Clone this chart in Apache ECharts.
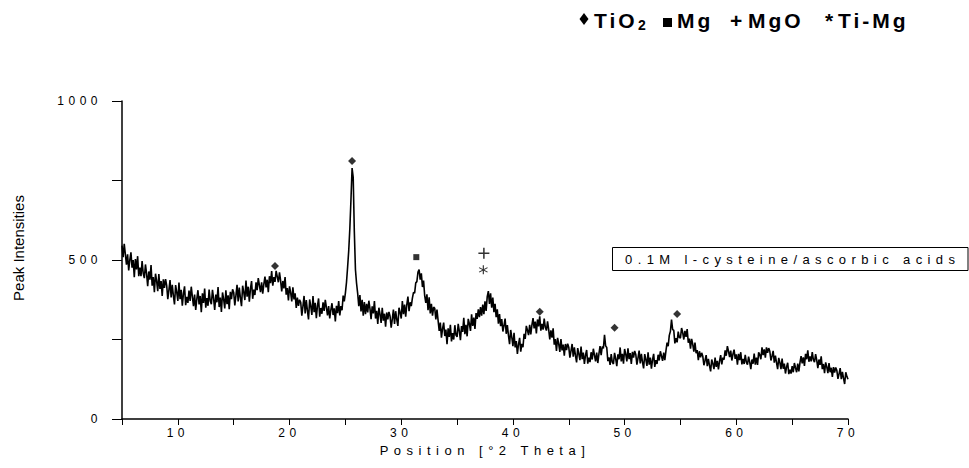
<!DOCTYPE html>
<html>
<head>
<meta charset="utf-8">
<script src="https://cdn.jsdelivr.net/npm/echarts@6/dist/echarts.min.js"></script>
<style>
  html, body { margin: 0; padding: 0; background: #fff; }
  #chart { width: 969px; height: 468px; }
  text[fill="#000001"] { letter-spacing: 4.5px; }
  text[fill="#000002"] { letter-spacing: 5.5px; }
  text[fill="#000003"] { letter-spacing: 5.4px; }
  text[fill="#000004"] { letter-spacing: 3px; }
</style>
</head>
<body>
<div id="chart"></div>
<script>
// ---- data ----
const thetaStart = 5.0;   // first 2θ position
const thetaStep = 0.1;    // sampling step of the pattern
const intensity = [
  545,509,551,518,485,518,467,500,524,476,500,446,503,470,512,449,476,449,497,458,
  443,486,457,418,464,438,484,419,446,399,457,434,402,456,409,434,387,439,412,440,
  420,377,405,437,382,422,388,360,421,399,371,429,377,406,356,394,417,358,384,365,
  404,371,416,385,355,391,343,378,405,360,387,336,395,365,410,350,380,356,407,371,
  361,406,379,343,391,367,415,352,382,337,398,377,348,405,361,389,345,400,377,408,
  398,357,388,422,370,413,381,355,419,399,374,435,385,416,369,409,434,378,407,390,
  430,405,443,421,399,430,394,424,448,414,438,399,449,427,465,419,446,431,466,448,
  430,461,435,401,434,411,446,391,412,373,417,397,370,414,376,395,349,382,356,375,
  367,325,354,387,332,374,341,313,376,355,327,387,336,365,317,356,379,322,349,331,
  367,340,375,351,326,355,316,343,364,327,348,307,356,333,371,326,355,342,388,370,
  396,430,478,530,600,690,789,760,590,470,427,395,355,390,338,375,325,368,330,362,
  335,372,347,314,354,332,371,316,340,299,350,330,302,350,309,331,290,335,313,337,
  323,287,314,344,299,339,313,293,350,335,316,371,330,360,322,360,385,339,367,355,
  380,398,396,428,432,462,470,438,458,415,435,388,365,392,342,383,332,362,325,352,
  348,313,344,310,277,303,256,284,303,261,281,235,285,258,296,244,270,250,295,264,
  258,299,277,248,292,274,318,267,296,260,315,300,277,329,293,319,283,333,315,345,
  320,352,325,360,330,370,340,385,402,362,395,350,382,336,362,320,345,300,330,292,
  314,275,294,316,268,295,263,235,280,257,229,271,225,245,205,235,255,212,236,226,
  268,252,293,279,264,296,266,295,317,285,306,269,313,291,323,278,299,281,316,288,
  278,307,282,250,279,256,285,234,251,214,255,236,211,251,216,234,199,236,217,237,
  226,193,214,236,196,225,199,178,223,205,185,228,188,209,173,201,217,174,193,179,
  210,187,221,201,181,209,176,205,229,201,228,222,265,230,225,182,194,170,204,178,
  173,208,190,166,203,188,225,181,205,174,220,204,181,222,188,207,173,211,193,214,
  203,171,192,215,175,205,179,159,204,187,167,210,171,193,158,187,205,164,185,173,
  202,184,213,198,183,209,185,214,240,229,263,276,313,281,279,238,254,241,275,256,
  255,286,272,250,277,258,283,240,253,221,252,235,212,240,207,217,185,213,194,208,
  197,169,184,201,166,189,168,150,187,174,157,193,164,183,156,182,201,172,193,187,
  216,199,229,213,195,215,184,204,218,189,203,171,205,185,210,172,189,173,202,178,
  171,196,179,157,187,174,206,171,193,170,210,202,188,225,201,219,193,225,208,223,
  213,184,198,214,177,199,177,157,192,177,157,190,158,174,143,164,177,141,155,143,
  166,147,176,161,147,174,150,177,198,175,194,167,205,188,216,180,197,181,210,186,
  179,204,185,160,187,170,197,157,173,144,178,164,144,176,147,161,132,163,146,162,
  153,126,142,160,125,148,128,110,147,134,125
];
// phase markers [2θ, height]
const tio2Marks = [[18.7, 481], [25.6, 811], [42.4, 337], [49.1, 287], [54.7, 330]];
const mgMarks = [[31.35, 509]];
const mgoMarks = [[37.4, 521]];
const timgMarks = [[37.35, 469]];
const xTickLabels = [10, 20, 30, 40, 50, 60, 70];
const yTickLabels = [0, 500, 1000];
const xTitle = 'Position [°2 Theta]';
const yTitle = 'Peak Intensities';
const sampleLabel = '0.1M l-cysteine/ascorbic acids';
// ----------------------------------------

const pattern = intensity.map((v, i) => [+(thetaStart + i * thetaStep).toFixed(2), v]);

const chart = echarts.init(document.getElementById('chart'), null, { renderer: 'svg' });
const FONT = '"Liberation Sans", Arial, sans-serif';

const PLUS = 'path://M4.3,0H5.7V4.3H10V5.7H5.7V10H4.3V5.7H0V4.3H4.3Z';
const STAR = 'path://M4.4,0H5.6V10H4.4Z M0.37,3.02L0.97,1.98L9.63,6.98L9.03,8.02Z M0.97,8.02L0.37,6.98L9.03,1.98L9.63,3.02Z';

chart.setOption({
  animation: false,
  backgroundColor: '#fff',
  grid: { left: 122, right: 121, top: 101, bottom: 49, containLabel: false, outerBoundsMode: 'none' },
  xAxis: {
    type: 'value', min: 5, max: 70, interval: 5,
    name: xTitle, nameLocation: 'middle', nameGap: 25,
    nameTextStyle: { fontSize: 13, color: '#000002', fontFamily: FONT },
    axisLine: { onZero: false, lineStyle: { color: '#000', width: 1.5 } },
    axisTick: { inside: false, length: 6, lineStyle: { color: '#000', width: 1 } },
    axisLabel: {
      margin: 8, fontSize: 12, color: '#000001', fontFamily: FONT,
      formatter: v => xTickLabels.includes(v) ? String(v) : ''
    },
    splitLine: { show: false }
  },
  yAxis: {
    type: 'value', min: 0, max: 1000, interval: 250,
    axisLine: { show: true, lineStyle: { color: '#000', width: 1.5 } },
    axisTick: { show: true, inside: false, length: 10, lineStyle: { color: '#000', width: 1 } },
    axisLabel: {
      margin: 20, fontSize: 12, color: '#000001', fontFamily: FONT,
      formatter: v => yTickLabels.includes(v) ? String(v) : ''
    },
    splitLine: { show: false }
  },
  series: [
    {
      type: 'line', data: pattern, showSymbol: false, symbol: 'none',
      lineStyle: { color: '#000', width: 1.6 }, z: 2
    },
    {
      type: 'scatter', data: tio2Marks, symbol: 'diamond', symbolSize: [8, 8],
      itemStyle: { color: '#000' }, z: 3
    },
    {
      type: 'scatter', data: mgMarks, symbol: 'rect', symbolSize: [6, 6],
      itemStyle: { color: '#000' }, z: 3
    },
    {
      type: 'scatter', data: mgoMarks, symbol: PLUS, symbolSize: [11, 11],
      itemStyle: { color: '#000' }, z: 3
    },
    {
      type: 'scatter', data: timgMarks, symbol: STAR, symbolSize: [9, 9],
      itemStyle: { color: '#000' }, z: 3
    }
  ],
  graphic: [
    // y axis title
    { type: 'text', x: 18, y: 248, rotation: Math.PI / 2,
      style: { text: yTitle, font: '15px ' + FONT, fill: '#000', align: 'center', verticalAlign: 'middle' } },
    // phase legend
    { type: 'polygon', shape: { points: [[584, 13], [588.5, 19], [584, 25], [579.5, 19]] }, style: { fill: '#000' } },
    { type: 'text', x: 594, y: 20, style: { text: 'TiO', font: 'bold 21px ' + FONT, fill: '#000004', verticalAlign: 'middle' } },
    { type: 'text', x: 638, y: 25, style: { text: '2', font: 'bold 14px ' + FONT, fill: '#000', verticalAlign: 'middle' } },
    { type: 'rect', shape: { x: 663, y: 18, width: 9, height: 9 }, style: { fill: '#000' } },
    { type: 'text', x: 677, y: 20, style: { text: 'Mg', font: 'bold 21px ' + FONT, fill: '#000004', verticalAlign: 'middle' } },
    { type: 'text', x: 730, y: 20, style: { text: '+', font: 'bold 21px ' + FONT, fill: '#000', verticalAlign: 'middle' } },
    { type: 'text', x: 748, y: 20, style: { text: 'MgO', font: 'bold 21px ' + FONT, fill: '#000004', verticalAlign: 'middle' } },
    { type: 'text', x: 825, y: 20, style: { text: '*', font: 'bold 21px ' + FONT, fill: '#000', verticalAlign: 'middle' } },
    { type: 'text', x: 838, y: 20, style: { text: 'Ti-Mg', font: 'bold 21px ' + FONT, fill: '#000004', verticalAlign: 'middle' } },
    // sample label box
    { type: 'rect', shape: { x: 612.5, y: 247.5, width: 355.5, height: 23 }, style: { fill: 'none', stroke: '#000', lineWidth: 1 } },
    { type: 'text', x: 625, y: 259, style: { text: sampleLabel, font: '13px ' + FONT, fill: '#000003', verticalAlign: 'middle' } }
  ]
});
</script>
</body>
</html>
